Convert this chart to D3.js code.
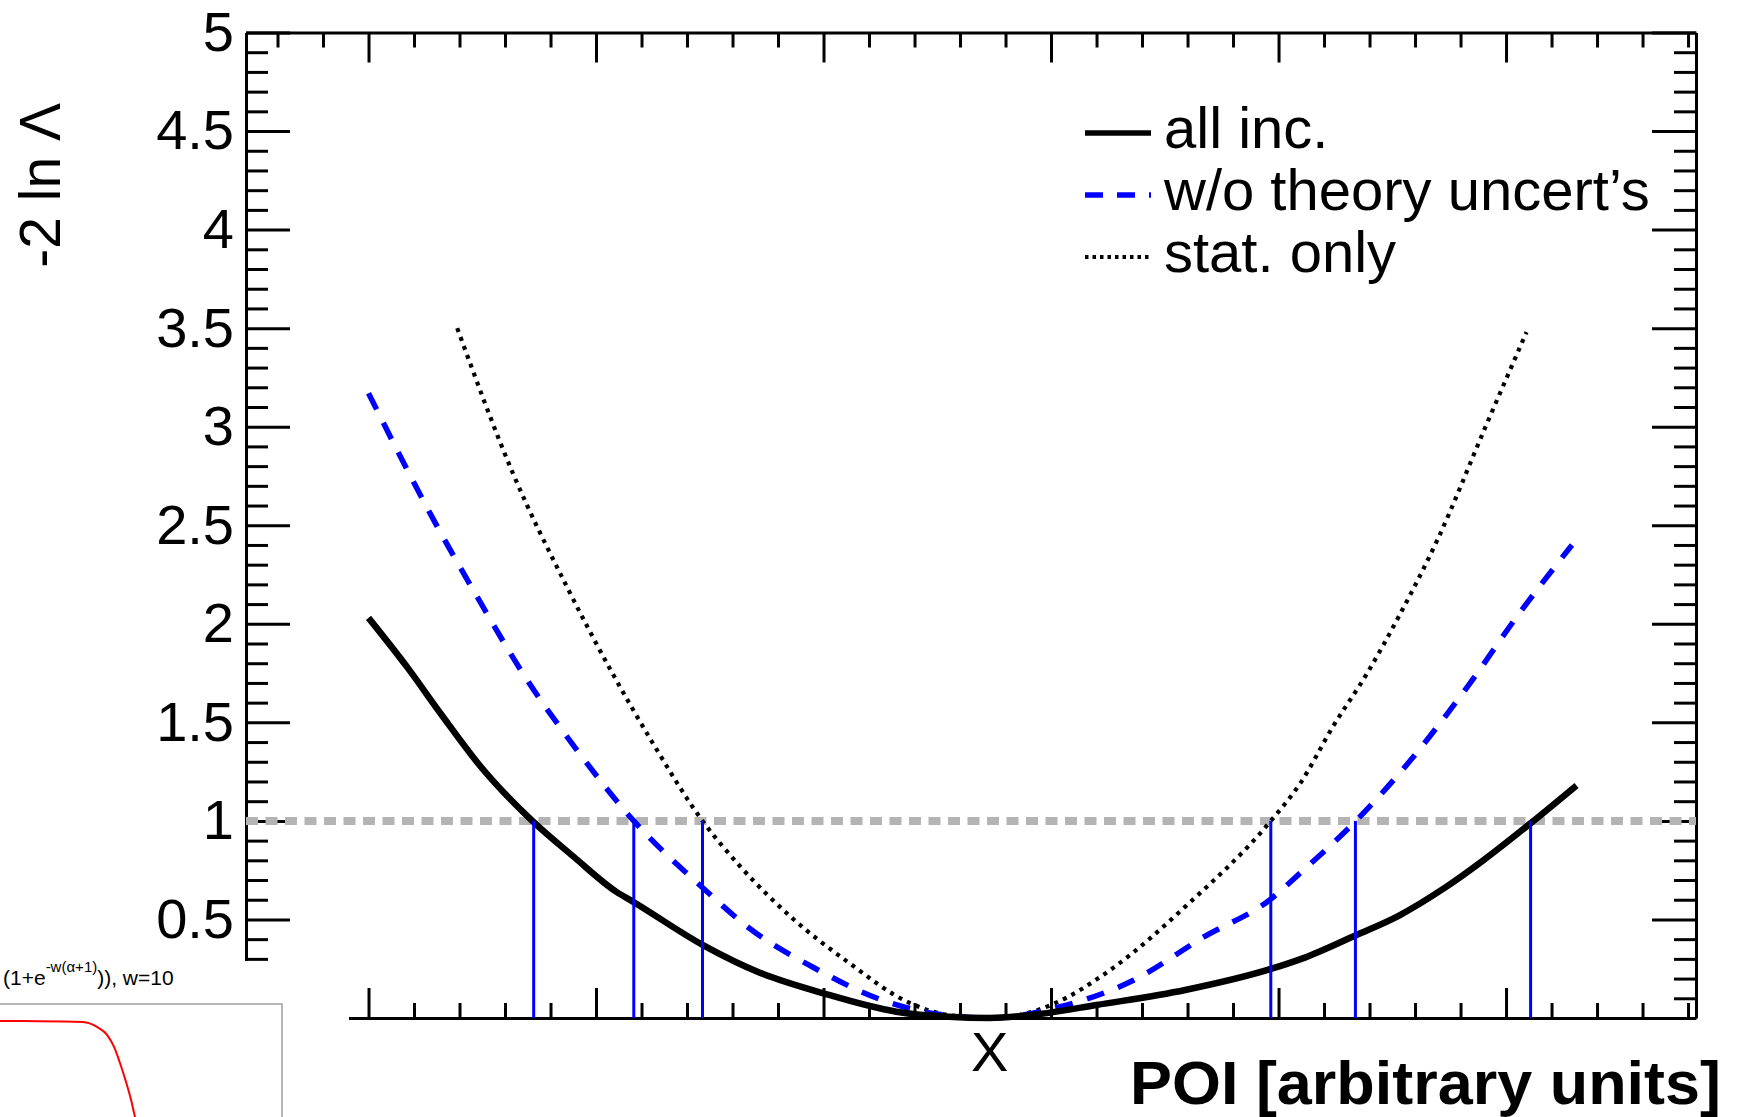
<!DOCTYPE html>
<html>
<head>
<meta charset="utf-8">
<script src="https://cdn.jsdelivr.net/npm/d3@7"></script>
<style>
  html, body { margin: 0; padding: 0; background: #fff; }
  svg { display: block; }
  text { font-family: "Liberation Sans", Arial, Helvetica, sans-serif; fill: #000; }
</style>
</head>
<body>
<div id="chart"></div>
<script>
// values, POI in units of one major tick
var yTicks = [0, 0.5, 1, 1.5, 2, 2.5, 3, 3.5, 4, 4.5, 5];
var yTickLabels = ['0', '0.5', '1', '1.5', '2', '2.5', '3', '3.5', '4', '4.5', '5'];

var poiAllInc = [0.0, 0.17, 0.32, 0.49, 0.72, 0.90, 1.09, 1.17, 1.47, 1.72, 2.00, 2.32, 2.55, 2.73, 2.95, 3.20, 3.59, 3.97, 4.10, 4.34, 4.53, 4.73, 4.90, 5.11, 5.31];
var nllAllInc = [2.03, 1.78, 1.54, 1.28, 1.00, 0.82, 0.64, 0.585, 0.37, 0.23, 0.125, 0.032, 0.006, 0.0, 0.02, 0.066, 0.142, 0.25, 0.30, 0.42, 0.52, 0.66, 0.80, 0.99, 1.18];

var poiNoTheory = [0.0, 0.285, 0.476, 0.70, 0.89, 1.166, 1.47, 1.68, 1.95, 2.26, 2.50, 2.73, 3.04, 3.36, 3.67, 3.97, 4.09, 4.34, 4.56, 4.83, 5.05, 5.29];
var nllNoTheory = [3.17, 2.53, 2.14, 1.71, 1.40, 1.00, 0.66, 0.45, 0.26, 0.09, 0.02, 0.0, 0.057, 0.19, 0.41, 0.607, 0.73, 1.0, 1.28, 1.68, 2.04, 2.40];

var poiStat = [0.39, 0.636, 0.871, 1.252, 1.468, 1.633, 1.869, 2.10, 2.38, 2.55, 2.73, 2.88, 3.0, 3.28, 3.59, 3.966, 4.095, 4.24, 4.39, 4.53, 4.70, 4.91, 5.09];
var nllStat = [3.50, 2.76, 2.19, 1.39, 1.0, 0.77, 0.50, 0.29, 0.076, 0.015, 0.0, 0.02, 0.066, 0.26, 0.565, 1.0, 1.19, 1.48, 1.75, 2.04, 2.43, 3.0, 3.48];

var crossings = [0.726, 1.166, 1.468, 3.966, 4.338, 5.108];
var legendLabels = ['all inc.', 'w/o theory uncert\u2019s', 'stat. only'];

// partly hidden slide picture in the lower left corner
var insetAlpha = [-1.86, -1.6, -1.31, -1.217, -1.151, -1.105, -1.066, -1.026, -0.993, -0.967, -0.94];
var insetValue = [1.0, 0.999, 0.993, 0.957, 0.899, 0.812, 0.696, 0.558, 0.428, 0.304, 0.18];

(function ()
{
  'use strict';

  var W = 1740, H = 1117;
  var frame = {left: 246, right: 1696, top: 32.5, bottom: 1018};

  var svg = d3.select('#chart')
    .append('svg')
    .attr('width', W)
    .attr('height', H);

  var x = d3.scaleLinear().domain([-0.5385, 5.835]).range([frame.left, frame.right]);
  var y = d3.scaleLinear().domain([0, 5]).range([frame.bottom, frame.top]);

  var majorX = d3.range(0, 6, 1);
  var minorX = d3.range(-0.4, 5.81, 0.2).filter(function (v) {
    return Math.abs(v - Math.round(v)) > 1e-6;
  });
  var minorY = d3.range(0, 5.001, 0.1).filter(function (v) {
    return Math.abs(v * 2 - Math.round(v * 2)) > 1e-6;
  });

  function styleAxis(g, keepDomain) {
    g.selectAll('line').attr('stroke', '#000').attr('stroke-width', 3);
    if (keepDomain) {
      g.select('.domain').attr('stroke', '#000').attr('stroke-width', 3);
    } else {
      g.select('.domain').remove();
    }
  }

  // bottom + top
  svg.append('g').attr('transform', 'translate(0,' + frame.bottom + ')')
    .call(d3.axisBottom(x).tickValues(majorX).tickSize(-30).tickSizeOuter(0).tickFormat(''))
    .call(styleAxis, true);
  svg.append('g').attr('transform', 'translate(0,' + frame.bottom + ')')
    .call(d3.axisBottom(x).tickValues(minorX).tickSize(-15).tickFormat(''))
    .call(styleAxis, false);
  svg.append('g').attr('transform', 'translate(0,' + frame.top + ')')
    .call(d3.axisTop(x).tickValues(majorX).tickSize(-30).tickSizeOuter(0).tickFormat(''))
    .call(styleAxis, true);
  svg.append('g').attr('transform', 'translate(0,' + frame.top + ')')
    .call(d3.axisTop(x).tickValues(minorX).tickSize(-15).tickFormat(''))
    .call(styleAxis, false);

  // left + right
  var left = svg.append('g').attr('transform', 'translate(' + frame.left + ',0)')
    .call(d3.axisLeft(y).tickValues(yTicks).tickSize(-44).tickSizeOuter(0).tickPadding(12)
      .tickFormat(function (d, i) { return yTickLabels[i]; }))
    .call(styleAxis, true);
  left.selectAll('text')
    .attr('font-size', 56)
    .attr('font-family', '"Liberation Sans", Arial, sans-serif')
    .attr('fill', '#000');
  svg.append('g').attr('transform', 'translate(' + frame.left + ',0)')
    .call(d3.axisLeft(y).tickValues(minorY).tickSize(-22).tickFormat(''))
    .call(styleAxis, false);
  svg.append('g').attr('transform', 'translate(' + frame.right + ',0)')
    .call(d3.axisRight(y).tickValues(yTicks).tickSize(-44).tickSizeOuter(0).tickFormat(''))
    .call(styleAxis, true);
  svg.append('g').attr('transform', 'translate(' + frame.right + ',0)')
    .call(d3.axisRight(y).tickValues(minorY).tickSize(-22).tickFormat(''))
    .call(styleAxis, false);

  // -2 ln L = 1 reference line
  svg.append('line')
    .attr('x1', frame.left).attr('x2', frame.right)
    .attr('y1', y(1)).attr('y2', y(1))
    .attr('stroke', '#b4b4b4')
    .attr('stroke-width', 8)
    .attr('stroke-dasharray', '12,7.5');

  var line = d3.line()
    .curve(d3.curveMonotoneX)
    .x(function (d) { return x(d[0]); })
    .y(function (d) { return y(d[1]); });

  var series = [
    {xs: poiStat, ys: nllStat, color: '#000', width: 4.2, dash: '4,5.5'},
    {xs: poiNoTheory, ys: nllNoTheory, color: '#0000ff', width: 5.5, dash: '18,15'},
    {xs: poiAllInc, ys: nllAllInc, color: '#000', width: 6.5, dash: null}
  ];

  series.forEach(function (s) {
    svg.append('path')
      .datum(d3.zip(s.xs, s.ys))
      .attr('d', line)
      .attr('fill', 'none')
      .attr('stroke', s.color)
      .attr('stroke-width', s.width)
      .attr('stroke-dasharray', s.dash);
  });

  // 1 sigma crossings
  svg.selectAll('.cross')
    .data(crossings)
    .enter().append('line')
    .attr('class', 'cross')
    .attr('x1', function (d) { return x(d); })
    .attr('x2', function (d) { return x(d); })
    .attr('y1', y(1))
    .attr('y2', y(0))
    .attr('stroke', '#0000ff')
    .attr('stroke-width', 3);

  // legend
  var legendStyles = [
    {color: '#000', width: 5.5, dash: null},
    {color: '#0000ff', width: 5.5, dash: '18,14'},
    {color: '#000', width: 4, dash: '3.5,4'}
  ];
  var leg = svg.append('g');
  legendLabels.forEach(function (label, i) {
    var base = 148 + i * 62;
    leg.append('line')
      .attr('x1', 1085).attr('x2', 1151)
      .attr('y1', base - 15).attr('y2', base - 15)
      .attr('stroke', legendStyles[i].color)
      .attr('stroke-width', legendStyles[i].width)
      .attr('stroke-dasharray', legendStyles[i].dash);
    leg.append('text')
      .attr('x', 1164)
      .attr('y', base)
      .attr('font-size', 58)
      .text(label);
  });

  // axis titles
  svg.append('text')
    .attr('transform', 'translate(60,103) rotate(-90)')
    .attr('text-anchor', 'end')
    .attr('font-size', 57)
    .text('-2 ln \u039B');

  svg.append('text')
    .attr('x', x(2.73))
    .attr('y', 1071)
    .attr('text-anchor', 'middle')
    .attr('font-size', 56)
    .text('X');

  svg.append('text')
    .attr('x', 1130)
    .attr('y', 1104)
    .attr('font-size', 62)
    .attr('font-weight', 'bold')
    .attr('textLength', 591)
    .attr('lengthAdjust', 'spacingAndGlyphs')
    .text('POI [arbitrary units]');

  // overlapping picture, lower left
  var inset = svg.append('g');
  inset.append('rect')
    .attr('x', 0).attr('y', 961)
    .attr('width', 349).attr('height', H - 961)
    .attr('fill', '#fff');

  var t = inset.append('text')
    .attr('x', 3)
    .attr('y', 985)
    .attr('font-size', 21);
  t.append('tspan').text('(1+e');
  t.append('tspan').attr('dy', -13).attr('font-size', 15).text('-w(\u03B1+1)');
  t.append('tspan').attr('dy', 13).text(')), w=10');

  inset.append('rect')
    .attr('x', -5).attr('y', 1004)
    .attr('width', 287).attr('height', 200)
    .attr('fill', 'none')
    .attr('stroke', '#a0a0a0')
    .attr('stroke-width', 1.5);

  var ix = d3.scaleLinear().domain([-2, 0]).range([-22, 282]);
  var iy = d3.scaleLinear().domain([0, 1]).range([1159, 1021]);

  inset.append('path')
    .datum(d3.zip(insetAlpha, insetValue))
    .attr('d', d3.line()
      .curve(d3.curveMonotoneX)
      .x(function (d) { return ix(d[0]); })
      .y(function (d) { return iy(d[1]); }))
    .attr('fill', 'none')
    .attr('stroke', '#ff0000')
    .attr('stroke-width', 2);
})();
</script>
</body>
</html>
